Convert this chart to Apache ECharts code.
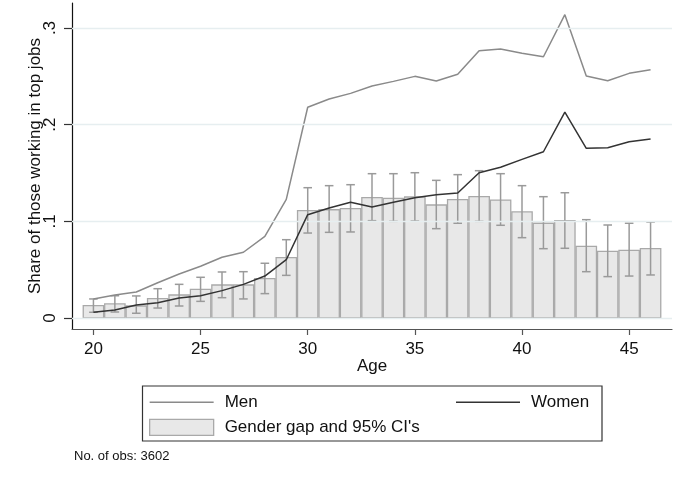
<!DOCTYPE html>
<html><head><meta charset="utf-8">
<script src="https://cdn.jsdelivr.net/npm/echarts@6/dist/echarts.min.js"></script>
<style>html,body{margin:0;padding:0;background:#fff}#c{width:687px;height:481px}</style>
</head><body><div id="c"></div>
<script>
const ages = [20,21,22,23,24,25,26,27,28,29,30,31,32,33,34,35,36,37,38,39,40,41,42,43,44,45,46];
const men = [0.0197,0.0238,0.0269,0.0365,0.0455,0.0535,0.0628,0.068,0.0845,0.1228,0.218,0.2265,0.2324,0.24,0.2448,0.25,0.2452,0.2521,0.2765,0.2783,0.2738,0.2703,0.3138,0.2503,0.2455,0.2531,0.2569];
const women = [0.0059,0.0083,0.0134,0.0158,0.0207,0.0231,0.0283,0.0348,0.0434,0.0603,0.1069,0.1138,0.1197,0.1148,0.1197,0.1245,0.1276,0.1293,0.1503,0.1559,0.1641,0.172,0.2131,0.1755,0.1762,0.1824,0.1852];
const gap = [0.0127,0.0145,0.0124,0.020,0.0238,0.0297,0.0341,0.0341,0.0407,0.0624,0.111,0.112,0.1131,0.1245,0.1238,0.1252,0.1169,0.1224,0.1255,0.122,0.1097,0.098,0.1007,0.0741,0.069,0.07,0.0717];
const ciHigh = [0.0197,0.023,0.0228,0.0303,0.0348,0.0421,0.0476,0.0479,0.0566,0.081,0.1348,0.1369,0.1379,0.1493,0.1493,0.1503,0.1424,0.1483,0.1524,0.1493,0.1369,0.1255,0.1296,0.1017,0.0962,0.098,0.0993];
const ciLow = [0.0059,0.0062,0.0049,0.0103,0.0124,0.0172,0.021,0.0197,0.0252,0.0441,0.0879,0.0886,0.089,0.1007,0.1,0.1003,0.0924,0.098,0.1,0.0959,0.0831,0.0717,0.0721,0.0479,0.0428,0.0434,0.0445];
const yTicks = [0, 0.1, 0.2, 0.3];
const yTickLabels = ['0', '.1', '.2', '.3'];
const xTicks = [20, 25, 30, 35, 40, 45];

const FONT = 'Liberation Sans, Arial, sans-serif';
const barFill = '#e8e8e8', barStroke = '#a9a9a9';
const menColor = '#8a8a8a', womenColor = '#333333';
const lineIcon = 'path://M0,0H64V1.5H0Z';
const chart = echarts.init(document.getElementById('c'), null, {renderer: 'canvas'});

function yLabel(v) {
  let best = 0;
  yTicks.forEach((t, i) => { if (Math.abs(t - v) < Math.abs(yTicks[best] - v)) best = i; });
  return yTickLabels[best];
}

const legendText = {fontSize: 17, color: '#111', fontFamily: FONT, padding: [0, 0, 0, 6]};

chart.setOption({
  animation: false,
  backgroundColor: '#fff',
  textStyle: {fontFamily: FONT},
  title: {text: 'No. of obs: 3602', left: 74, top: 450, padding: 0,
    textStyle: {fontSize: 13, fontWeight: 'normal', color: '#111', fontFamily: FONT}},
  grid: {left: 72, right: 15, top: 3, bottom: 152},
  xAxis: {
    type: 'value', min: 19, max: 47,
    name: 'Age', nameLocation: 'middle', nameGap: 29, nameMoveOverlap: false,
    nameTextStyle: {fontSize: 17, color: '#111', fontFamily: FONT},
    axisLine: {show: true, onZero: false, lineStyle: {color: '#555', width: 1.2}},
    axisTick: {show: true, customValues: xTicks, length: 6, lineStyle: {color: '#555', width: 1.2}},
    axisLabel: {customValues: xTicks, fontSize: 17, margin: 12, color: '#111', fontFamily: FONT},
    splitLine: {show: false}
  },
  yAxis: {
    type: 'value', min: -0.0114, max: 0.3259,
    name: 'Share of those working in top jobs', nameLocation: 'middle', nameGap: 28, nameMoveOverlap: false,
    nameTextStyle: {fontSize: 17, color: '#111', fontFamily: FONT},
    axisLine: {show: true, onZero: false, lineStyle: {color: '#111', width: 1.2}},
    axisTick: {show: true, customValues: yTicks, length: 8, lineStyle: {color: '#333', width: 1.2}},
    axisLabel: {customValues: yTicks, rotate: 90, fontSize: 17, margin: 13, color: '#111',
      fontFamily: FONT, formatter: yLabel},
    splitLine: {show: false}
  },
  legend: [
    {left: 149, top: 393.7, padding: 0, orient: 'vertical', itemWidth: 64, itemHeight: 16, itemGap: 8,
      selectedMode: false, textStyle: legendText,
      data: [{name: 'Men', icon: lineIcon, itemStyle: {color: menColor}},
        {name: "Gender gap and 95% CI's", icon: 'rect',
          itemStyle: {color: barFill, borderColor: barStroke, borderWidth: 1.3}}]},
    {left: 456, top: 393.7, padding: 0, orient: 'vertical', itemWidth: 64, itemHeight: 16,
      selectedMode: false, textStyle: legendText,
      data: [{name: 'Women', icon: lineIcon, itemStyle: {color: womenColor}}]}
  ],
  graphic: [{type: 'rect', silent: true, shape: {x: 142.5, y: 386, width: 459.5, height: 55},
    style: {fill: 'transparent', stroke: '#333', lineWidth: 1.2}}],
  series: [
    {type: 'line', name: 'grid', data: [[19, 0]], symbol: 'none', silent: true, z: 0,
      lineStyle: {opacity: 0},
      markLine: {silent: true, symbol: 'none', label: {show: false},
        lineStyle: {color: '#e6eef0', width: 1.3, type: 'solid'},
        data: yTicks.map(v => ({yAxis: v}))}},
    {type: 'custom', name: "Gender gap and 95% CI's", z: 2,
      itemStyle: {color: barFill, borderColor: barStroke},
      data: ages.map((a, i) => [a, gap[i]]),
      encode: {x: 0, y: 1},
      renderItem: function (params, api) {
        const x = api.value(0), y = api.value(1);
        const p0 = api.coord([x - 0.475, y]);
        const p1 = api.coord([x + 0.475, 0]);
        return {type: 'rect', shape: {x: p0[0], y: p0[1], width: p1[0] - p0[0], height: p1[1] - p0[1]},
          style: {fill: barFill, stroke: barStroke, lineWidth: 1.3}};
      }},
    {type: 'custom', name: 'ci', z: 3,
      data: ages.map((a, i) => [a, ciLow[i], ciHigh[i]]),
      encode: {x: 0, y: [1, 2]},
      renderItem: function (params, api) {
        const x = api.value(0);
        const lo = api.coord([x, api.value(1)]);
        const hi = api.coord([x, api.value(2)]);
        const w = 4.3;
        const st = {stroke: '#9a9a9a', lineWidth: 1.5};
        return {type: 'group', children: [
          {type: 'line', shape: {x1: lo[0], y1: lo[1], x2: hi[0], y2: hi[1]}, style: st},
          {type: 'line', shape: {x1: lo[0] - w, y1: lo[1], x2: lo[0] + w, y2: lo[1]}, style: st},
          {type: 'line', shape: {x1: hi[0] - w, y1: hi[1], x2: hi[0] + w, y2: hi[1]}, style: st}
        ]};
      }},
    {type: 'line', name: 'Men', z: 4, symbol: 'none',
      data: ages.map((a, i) => [a, men[i]]),
      itemStyle: {color: menColor},
      lineStyle: {color: menColor, width: 1.5}},
    {type: 'line', name: 'Women', z: 5, symbol: 'none',
      data: ages.map((a, i) => [a, women[i]]),
      itemStyle: {color: womenColor},
      lineStyle: {color: womenColor, width: 1.5}}
  ]
});
</script>
</body></html>
